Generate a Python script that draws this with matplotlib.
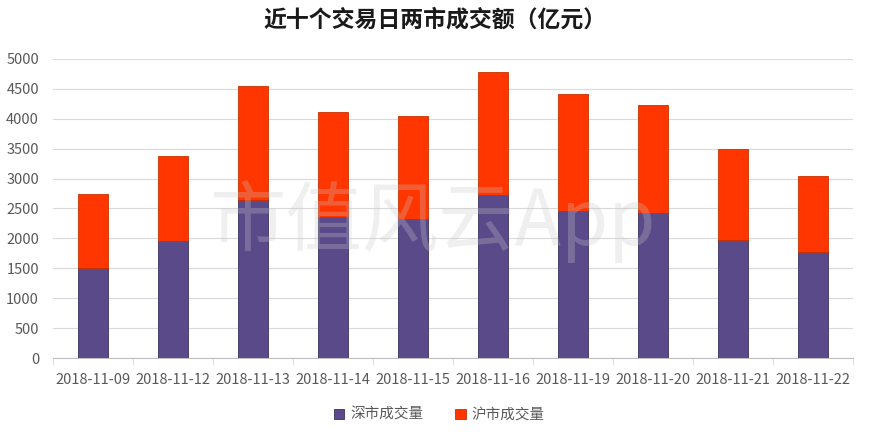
import numpy as np
import matplotlib.pyplot as plt

plt.rcParams['font.family'] = ['Noto Sans CJK SC', 'DejaVu Sans']

dates = ["2018-11-09", "2018-11-12", "2018-11-13", "2018-11-14", "2018-11-15",
         "2018-11-16", "2018-11-19", "2018-11-20", "2018-11-21", "2018-11-22"]
sz_volume = [1505, 1956, 2642, 2358, 2324, 2726, 2458, 2425, 1973, 1773]
total_volume = [2742, 3378, 4548, 4114, 4047, 4783, 4415, 4231, 3495, 3043]
sh_volume = [t - s for t, s in zip(total_volume, sz_volume)]
yticks = list(range(0, 5001, 500))

purple = '#5a4a8a'
red = '#ff3600'
gray = '#595959'

fig = plt.figure(figsize=(8.7, 4.4), dpi=100)
ax = fig.add_axes([53 / 870, 1 - 358 / 440, 800 / 870, 299 / 440])

x = np.arange(len(dates))
ax.bar(x, sz_volume, width=0.375, color=purple, edgecolor='#3c3060',
       linewidth=0.6, label='深市成交量', zorder=3)
ax.bar(x, sh_volume, width=0.375, bottom=sz_volume, color=red,
       edgecolor='#c83000', linewidth=0.6, label='沪市成交量', zorder=3)

ax.set_xlim(-0.5, len(dates) - 0.5)
ax.set_ylim(0, 5000)
ax.set_yticks(yticks)
ax.set_yticklabels([str(v) for v in yticks], fontsize=10.5, color=gray)
ax.yaxis.grid(True, color='#d9d9d9', linewidth=0.8, zorder=0)
ax.tick_params(axis='y', length=0, pad=10)

ax.set_xticks(x)
ax.set_xticklabels(dates, fontsize=10.5, color=gray)
ax.tick_params(axis='x', length=0, pad=11)
ax.set_xticks(np.arange(-0.5, len(dates), 1), minor=True)
ax.tick_params(axis='x', which='minor', length=5, color='#d9d9d9')

for side in ['top', 'right', 'left']:
    ax.spines[side].set_visible(False)
ax.spines['bottom'].set_color('#bfbfbf')

fig.text(0.5, 1 - 20 / 440, '近十个交易日两市成交额（亿元）', ha='center', va='center',
         fontsize=16.5, fontweight='bold', color='#1a1a1a')

# faint watermark
fig.text(0.497, 1 - 222 / 440, '市值风云App', ha='center', va='center',
         fontsize=55, color='#c8c8c8', alpha=0.28, zorder=10,
         family=['Noto Sans CJK SC', 'DejaVu Sans'], fontweight='light')

leg = fig.legend(loc='center', bbox_to_anchor=(0.505, 1 - 415 / 440), ncol=2,
                 frameon=False, fontsize=10.5, handlelength=0.7, handleheight=0.7,
                 columnspacing=2.2, handletextpad=0.4)
for t in leg.get_texts():
    t.set_color(gray)

fig.savefig('out.png', dpi=100)
